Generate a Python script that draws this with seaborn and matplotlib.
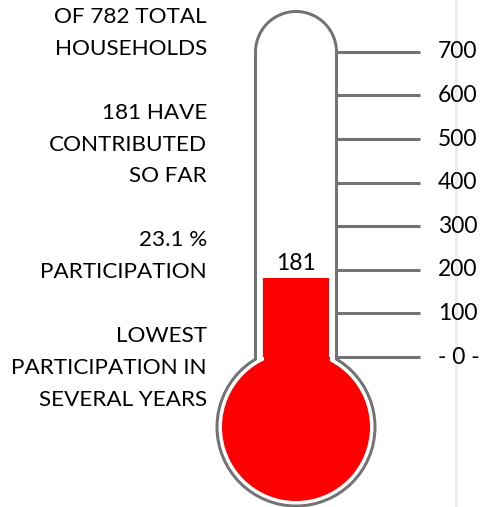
import matplotlib
matplotlib.use("Agg")
import matplotlib.pyplot as plt
import matplotlib.patches as mpatches
import pandas as pd
import seaborn as sns

# ---------------- data ----------------
TOTAL_HOUSEHOLDS = 782
CONTRIBUTED = 181
PARTICIPATION_PCT = 23.1
TICK_VALUES = [0, 100, 200, 300, 400, 500, 600, 700]
TICK_LABELS = ["- 0 -", "100", "200", "300", "400", "500", "600", "700"]
NOTE_LINES = [
    f"OF {TOTAL_HOUSEHOLDS} TOTAL",
    "HOUSEHOLDS",
    "",
    f"{CONTRIBUTED} HAVE",
    "CONTRIBUTED",
    "SO FAR",
    "",
    f"{PARTICIPATION_PCT} %",
    "PARTICIPATION",
    "",
    "LOWEST",
    "PARTICIPATION IN",
    "SEVERAL YEARS",
]

# ---------------- layout (pixels) ----------------
W, H = 481, 507
PX_PER_UNIT = 0.436      # pixels per household on the value scale
ZERO_Y = 357             # pixel row of value 0
CX = 296                 # thermometer centre column


def ux(px):
    return (px - CX) / PX_PER_UNIT


def uy(py):
    return (ZERO_Y - py) / PX_PER_UNIT


def ul(px):
    return px / PX_PER_UNIT


sns.set_theme(style="white")
plt.rcParams["font.family"] = ["Lato", "DejaVu Sans"]

fig = plt.figure(figsize=(W / 100, H / 100), dpi=100)
ax = fig.add_axes([0, 0, 1, 1])

GRAY = "#737373"
RED = "#ff0000"

# faint vertical separator on the right
ax.axvline(ux(456), color="#ececec", lw=2.2, zorder=0)

# outer gray outline (tube + cap + bulb)
ax.add_patch(mpatches.Rectangle((ux(254), uy(385)), ul(84), ul(385 - 52), color=GRAY, lw=0, zorder=1))
ax.add_patch(mpatches.Circle((0, uy(52)), ul(42), color=GRAY, lw=0, zorder=1))
ax.add_patch(mpatches.Circle((0, uy(427)), ul(80.5), color=GRAY, lw=0, zorder=1))
# white interior
ax.add_patch(mpatches.Rectangle((ux(257), uy(385)), ul(78), ul(385 - 52), color="white", lw=0, zorder=2))
ax.add_patch(mpatches.Circle((0, uy(52)), ul(39), color="white", lw=0, zorder=2))
ax.add_patch(mpatches.Circle((0, uy(427)), ul(77.5), color="white", lw=0, zorder=2))
# red bulb + neck
ax.add_patch(mpatches.Circle((0, uy(427)), ul(74), color=RED, lw=0, zorder=3))
ax.add_patch(mpatches.Rectangle((ux(264), uy(385)), ul(66), ul(385 - ZERO_Y) + 1, color=RED, lw=0, zorder=3))

# mercury column drawn from the data
df = pd.DataFrame({"group": [0], "households": [CONTRIBUTED]})
sns.barplot(data=df, x="group", y="households", color=RED, saturation=1,
            width=ul(66), native_scale=True, linewidth=0, ax=ax, zorder=4)

ax.text(0, CONTRIBUTED + ul(4), f"{CONTRIBUTED}", ha="center", va="bottom",
        fontsize=16.5, color="black", zorder=5)

# scale lines and labels
ax.hlines(TICK_VALUES, ux(337), ux(420), color=GRAY, lw=2.2, zorder=1)
for v, lab in zip(TICK_VALUES, TICK_LABELS):
    ax.text(ux(438), v, lab, ha="left", va="center", fontsize=16.5, color="black")

# notes on the left
for i, line in enumerate(NOTE_LINES):
    if line:
        ax.text(ux(207), uy(17 + i * 31.9), line, ha="right", va="center",
                fontsize=16.2, color="black")

ax.set_xlim(ux(0), ux(W))
ax.set_ylim(uy(H), uy(0))
ax.axis("off")

fig.savefig("out.png", dpi=100, facecolor="white")
